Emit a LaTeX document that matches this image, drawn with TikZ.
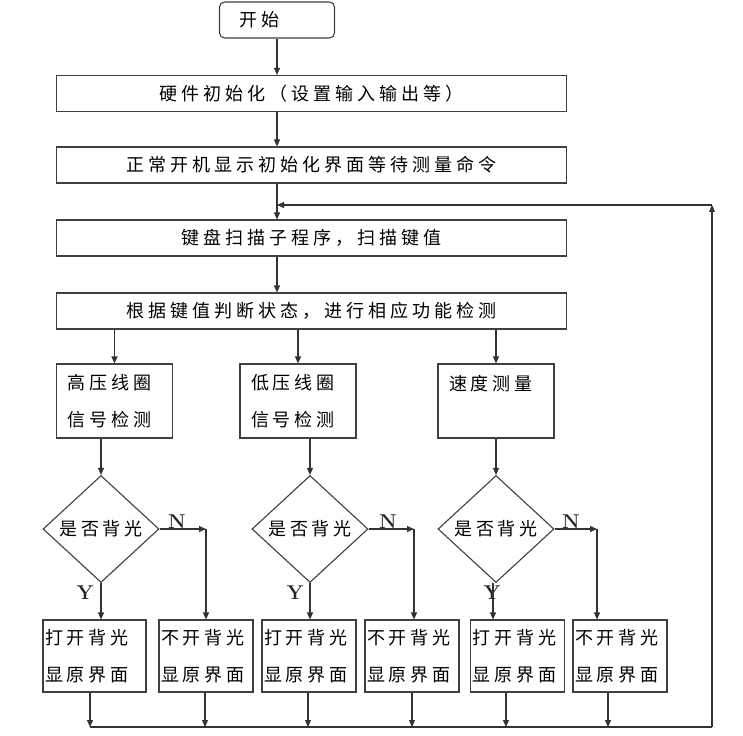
\documentclass[tikz,border=0pt]{standalone}
\usepackage{fontspec}
\newfontfamily\cjk[LetterSpace=22]{Noto Sans CJK SC}
\usetikzlibrary{shapes.geometric,arrows.meta}

\begin{document}
\begin{tikzpicture}[x=1pt,y=-1pt]
	\tikzset{
		bx/.style={draw=black!75, line width=1.1pt, fill=white, inner sep=0pt, text=black, font=\cjk\fontsize{18}{37}\selectfont},
		wide/.style={bx, minimum width=510pt, minimum height=36pt},
		tall/.style={bx, text width=94pt, inner xsep=11pt, minimum height=74pt, align=left},
		small/.style={bx, text width=90pt, inner xsep=2pt, minimum height=72pt, align=left},
		dm/.style={bx, diamond, minimum width=116pt, minimum height=107pt},
		arr/.style={draw=black!80, line width=1.1pt, -{Triangle[length=7pt,width=6pt]}},
		ln/.style={draw=black!80, line width=1.1pt},
		yn/.style={font=\bfseries\fontsize{20}{20}\selectfont, text=black!85, inner sep=0pt}
	};
	\useasboundingbox (0,0) rectangle (743,735);

	\node[bx, rounded corners=5pt, text width=75pt, inner xsep=20pt, align=left, minimum height=36pt] (start) at (277,20) {开始};
	\node[wide] (hw) at (311.5,93.5) {硬件初始化（设置输入输出等）};
	\node[wide] (boot) at (311.5,165) {正常开机显示初始化界面等待测量命令};
	\node[wide] (kb) at (311.5,238) {键盘扫描子程序，扫描键值};
	\node[wide] (judge) at (311.5,311) {根据键值判断状态，进行相应功能检测};

	\node[tall] (hv) at (114.5,401) {高压线圈\\信号检测};
	\node[tall] (lv) at (298,401) {低压线圈\\信号检测};
	\node[tall] (sp) at (496,401) {速度测量\\\mbox{}};

	\node[dm] (q1) at (101,529) {是否背光};
	\node[dm] (q2) at (310,529) {是否背光};
	\node[dm] (q3) at (496,529) {是否背光};

	\node[small, text width=99pt] (on1) at (94.5,656) {打开背光\\显原界面};
	\node[small] (off1) at (206,656) {不开背光\\显原界面};
	\node[small] (on2) at (309,656) {打开背光\\显原界面};
	\node[small] (off2) at (412,656) {不开背光\\显原界面};
	\node[small] (on3) at (517.5,656) {打开背光\\显原界面};
	\node[small] (off3) at (620,656) {不开背光\\显原界面};

	\node[yn] (n1l) at (177,522) {N};
	\node[yn] (n2l) at (388,522) {N};
	\node[yn] (n3l) at (571,522) {N};
	\node[yn] (y1l) at (85,593) {Y};
	\node[yn] (y2l) at (295,593) {Y};
	\node[yn] (y3l) at (492,593) {Y};

	% loop back and corners
	\coordinate (m) at (277,205);
	\coordinate (rt) at (712,205);
	\coordinate (rb) at (712,727);
	\coordinate (n1) at (206,529);
	\coordinate (n2) at (414,529);
	\coordinate (n3) at (597,529);
	\coordinate (e1) at (90,727);
	\coordinate (e2) at (205,727);
	\coordinate (e3) at (308,727);
	\coordinate (e4) at (412,727);
	\coordinate (e5) at (506,727);
	\coordinate (e6) at (608,727);

	\draw[arr] (start) to (start.south |- hw.north);
	\draw[arr] (hw.south -| start) to (boot.north -| start);
	\draw[ln] (boot.south -| start) to (m);
	\draw[arr] (m) to (kb.north -| start);
	\draw[arr] (kb.south -| start) to (judge.north -| start);

	\draw[arr] (judge.south -| hv) to (hv);
	\draw[arr] (judge.south -| lv) to (lv);
	\draw[arr] (judge.south -| sp) to (sp);

	\draw[arr] (hv.south -| q1) to (q1);
	\draw[arr] (lv.south -| q2) to (q2);
	\draw[arr] (sp.south -| q3) to (q3);

	\draw[arr] (q1) to (n1);
	\draw[arr] (n1) to (n1 |- off1.north);
	\draw[arr] (q2) to (n2);
	\draw[arr] (n2) to (n2 |- off2.north);
	\draw[arr] (q3) to (n3);
	\draw[arr] (n3) to (n3 |- off3.north);

	\draw[arr] (q1.south) to (q1.south |- on1.north);
	\draw[arr] (q2.south) to (q2.south |- on2.north);
	\draw[arr] ([xshift=-3pt]q3.south) to ([xshift=-3pt]q3.south |- on3.north);

	\draw[arr] (e1 |- on1.south) to (e1);
	\draw[arr] (e2 |- off1.south) to (e2);
	\draw[arr] (e3 |- on2.south) to (e3);
	\draw[arr] (e4 |- off2.south) to (e4);
	\draw[arr] (e5 |- on3.south) to (e5);
	\draw[arr] (e6 |- off3.south) to (e6);

	\draw[ln] (e1) to (rb);
	\draw[arr] (rb) to (rt);
	\draw[arr] (rt) to (m);
\end{tikzpicture}
\end{document}
